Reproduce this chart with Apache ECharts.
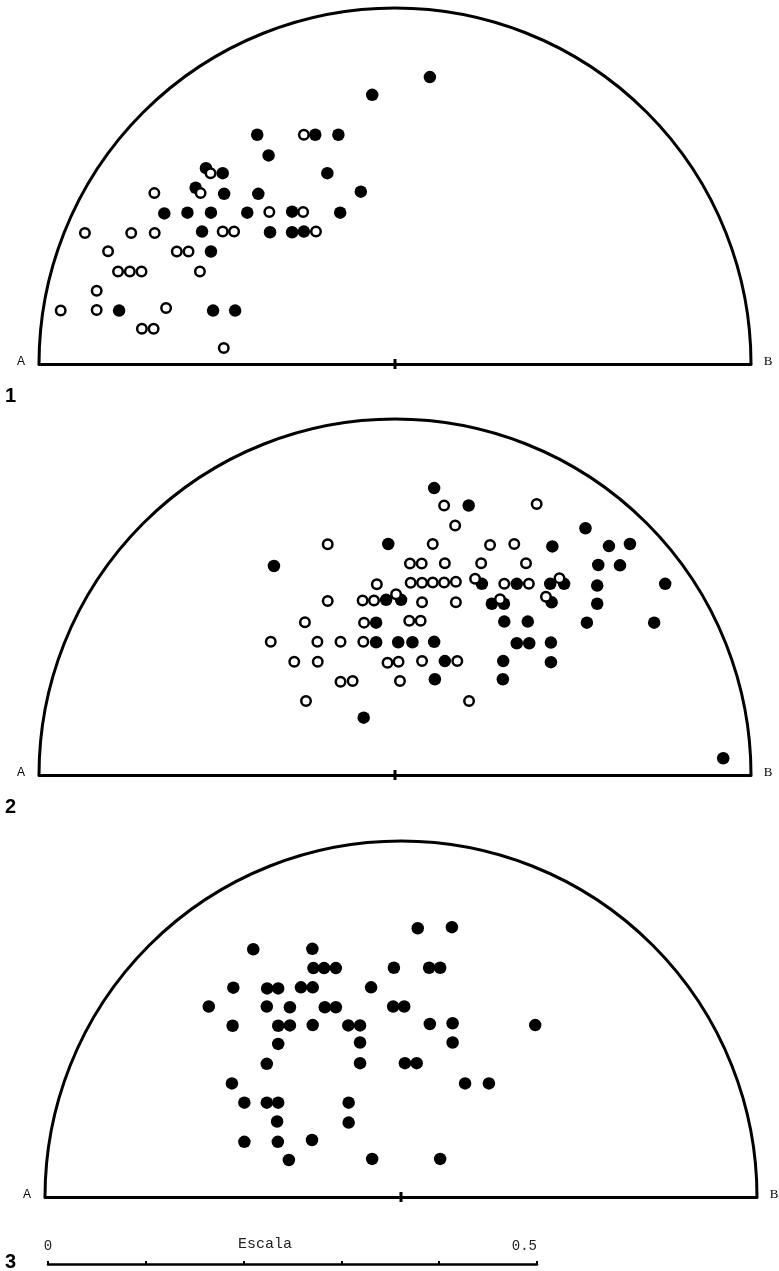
<!DOCTYPE html>
<html>
<head>
<meta charset="utf-8">
<script src="https://cdn.jsdelivr.net/npm/echarts@6/dist/echarts.min.js"></script>
<style>
html,body{margin:0;padding:0;background:#fff;}
#chart{width:779px;height:1271px;}
</style>
</head>
<body>
<div id="chart"></div>
<script>
// Coordinates: x from A (-100) to B (100), y from base (0) to top of semicircle (100); radius = 100.
const panelNames = ['1', '2', '3'];
const endLabels = ['A', 'B'];

const p1Filled = [
  [9.8,80.6],[-6.4,75.6],[-38.7,64.4],[-22.4,64.4],[-15.9,64.4],[-35.5,58.6],[-19.0,53.6],
  [-53.1,55.0],[-48.4,53.6],[-56.0,49.5],[-48.0,47.8],[-38.4,47.8],[-9.6,48.4],
  [-64.8,42.3],[-58.3,42.5],[-51.7,42.5],[-41.5,42.5],[-28.9,42.8],[-15.4,42.5],
  [-54.2,37.2],[-35.1,37.0],[-28.9,37.0],[-25.6,37.2],[-51.7,31.6],
  [-77.5,15.0],[-51.1,15.0],[-44.9,15.0]
];
const p1Open = [
  [-25.6,64.4],[-51.8,53.6],[-54.6,48.0],[-67.6,48.0],[-35.3,42.7],[-25.8,42.7],
  [-87.1,36.8],[-74.1,36.8],[-67.5,36.8],[-48.4,37.2],[-45.2,37.2],[-22.2,37.2],
  [-80.6,31.7],[-61.3,31.6],[-58.0,31.6],[-77.8,26.0],[-74.5,26.0],[-71.2,26.0],[-54.8,26.0],
  [-83.8,20.6],[-93.9,15.0],[-83.8,15.2],[-64.3,15.7],[-71.1,9.9],[-67.8,9.9],[-48.1,4.5]
];

const p2Filled = [
  [11.0,80.6],[20.7,75.7],[53.5,69.3],[-1.9,64.9],[44.2,64.2],[60.1,64.3],[66.0,64.9],
  [-34.0,58.7],[57.1,59.0],[63.2,58.9],[24.4,53.7],[34.2,53.7],[43.6,53.7],[47.5,53.7],
  [56.8,53.2],[75.9,53.7],[-2.5,49.2],[1.7,49.2],[27.2,48.1],[30.6,48.1],[44.0,48.5],
  [56.8,48.1],[-5.3,42.8],[30.7,43.1],[37.3,43.1],[53.9,42.8],[72.8,42.8],
  [-5.3,37.3],[0.9,37.3],[4.9,37.3],[11.0,37.4],[34.2,37.0],[37.7,37.0],[43.8,37.2],
  [14.0,32.0],[30.4,32.0],[43.8,31.7],[11.2,26.9],[30.3,26.9],[-8.8,16.1],[92.2,4.7]
];
const p2Open = [
  [13.8,75.7],[39.8,76.1],[16.9,70.1],[-18.9,64.8],[10.6,64.9],[26.7,64.6],[33.5,64.9],
  [4.2,59.4],[7.5,59.4],[14.0,59.5],[24.2,59.5],[36.8,59.5],
  [-5.1,53.6],[4.4,54.0],[7.6,54.0],[10.6,54.1],[13.8,54.1],[17.1,54.3],[22.5,55.1],
  [30.7,53.7],[37.6,53.7],[46.2,55.3],
  [-18.9,48.9],[-9.1,49.0],[-5.9,49.0],[0.3,50.8],[7.6,48.5],[17.1,48.5],[29.5,49.4],[42.4,50.1],
  [-25.3,42.9],[-8.7,42.8],[4.0,43.3],[7.2,43.3],
  [-34.9,37.4],[-21.8,37.4],[-15.3,37.4],[-8.9,37.4],
  [-28.3,31.8],[-21.7,31.8],[-2.1,31.5],[1.0,31.8],[7.6,32.0],[17.5,32.0],
  [-15.3,26.2],[-11.9,26.4],[1.4,26.4],[-25.0,20.8],[20.8,20.8]
];

const p3Filled = [
  [4.7,75.5],[14.3,75.8],[-41.5,69.6],[-24.9,69.7],[-24.6,64.3],[-21.6,64.3],[-18.3,64.3],
  [-2.0,64.4],[7.9,64.4],[11.0,64.4],[-47.1,58.8],[-37.6,58.6],[-34.5,58.6],[-28.1,58.9],
  [-24.8,58.9],[-8.4,58.9],[-54.0,53.5],[-37.7,53.5],[-31.2,53.3],[-21.4,53.3],[-18.3,53.3],
  [-2.2,53.5],[0.9,53.5],[-47.3,48.1],[-34.5,48.1],[-31.2,48.2],[-24.8,48.3],[-14.8,48.2],
  [-11.5,48.2],[8.1,48.6],[14.5,48.8],[37.7,48.3],[-34.5,43.0],[-11.5,43.4],[14.5,43.4],
  [-37.7,37.4],[-11.5,37.6],[1.1,37.6],[4.4,37.6],[-47.5,31.9],[18.0,31.9],[24.7,31.9],
  [-44.0,26.5],[-37.7,26.5],[-34.5,26.5],[-14.7,26.5],[-34.8,21.2],[-14.7,20.9],
  [-44.0,15.5],[-34.6,15.5],[-25.0,16.0],[-31.5,10.4],[-8.1,10.7],[11.0,10.7]
];

// Scale bar (Escala)
const scaleMin = 0, scaleMax = 0.5, scaleStep = 0.1;
const scaleLabelShown = [0, 0.5];
const scaleTitle = 'Escala';

const panels = [
  {filled: p1Filled, open: p1Open},
  {filled: p2Filled, open: p2Open},
  {filled: p3Filled, open: []}
];
const gridPos = [
  {left: 39, top: 8},
  {left: 39, top: 419},
  {left: 45, top: 841}
];

const chart = echarts.init(document.getElementById('chart'), null, {renderer: 'canvas'});

const grid = [], xAxis = [], yAxis = [], series = [];
panels.forEach((p, i) => {
  grid.push({left: gridPos[i].left, top: gridPos[i].top, width: 712, height: 356, containLabel: false});
  xAxis.push({
    type: 'value', gridIndex: i, min: -100, max: 100, interval: 100,
    axisLine: {show: true, onZero: false, lineStyle: {color: '#000', width: 3}},
    axisTick: {show: false}, axisLabel: {show: false}, splitLine: {show: false}
  });
  yAxis.push({
    type: 'value', gridIndex: i, min: 0, max: 100,
    show: false, splitLine: {show: false}
  });
  // semicircle outline, centre tick and end labels, drawn through the axes
  series.push({
    type: 'custom', xAxisIndex: i, yAxisIndex: i, clip: false, silent: true,
    data: [[0, 0]],
    renderItem: function (params, api) {
      const c = api.coord([0, 0]);
      const e = api.coord([100, 0]);
      const r = e[0] - c[0];
      return {
        type: 'group',
        children: [
          {type: 'arc', shape: {cx: c[0], cy: c[1], r: r, startAngle: Math.PI, endAngle: 2 * Math.PI, clockwise: true},
           style: {stroke: '#000', lineWidth: 3, fill: null}},
          {type: 'line', shape: {x1: c[0], y1: c[1] - 5, x2: c[0], y2: c[1] + 5},
           style: {stroke: '#000', lineWidth: 3}},
          {type: 'text', x: c[0] - r - 18, y: c[1] - 2,
           style: {text: endLabels[0], fill: '#000', font: '12px "Liberation Sans"', align: 'center', verticalAlign: 'middle'}},
          {type: 'text', x: c[0] + r + 17, y: c[1] - 2,
           style: {text: endLabels[1], fill: '#000', font: '13px "Liberation Serif"', align: 'center', verticalAlign: 'middle'}}
        ]
      };
    }
  });
  series.push({
    type: 'scatter', xAxisIndex: i, yAxisIndex: i, data: p.filled,
    symbol: 'circle', symbolSize: 12.5,
    itemStyle: {color: '#000', opacity: 1}, silent: true
  });
  if (p.open.length) {
    series.push({
      type: 'scatter', xAxisIndex: i, yAxisIndex: i, data: p.open,
      symbol: 'circle', symbolSize: 9.5,
      itemStyle: {color: '#fff', borderColor: '#000', borderWidth: 2.5, opacity: 1}, silent: true
    });
  }
});

// scale bar grid
grid.push({left: 48, top: 1264, width: 489, height: 4});
xAxis.push({
  type: 'value', gridIndex: 3, position: 'top', min: scaleMin, max: scaleMax, interval: scaleStep,
  axisLine: {show: true, onZero: false, lineStyle: {color: '#000', width: 2.5}},
  axisTick: {show: true, length: 3, inside: false, lineStyle: {color: '#000', width: 2}},
  axisLabel: {
    show: true, margin: 11, color: '#222', fontFamily: 'Liberation Mono', fontSize: 14,
    alignMaxLabel: 'right',
    formatter: v => scaleLabelShown.some(s => Math.abs(s - v) < 1e-9) ? String(v) : ''
  },
  splitLine: {show: false}
});
yAxis.push({type: 'value', gridIndex: 3, show: false, min: 0, max: 1});

chart.setOption({
  animation: false,
  backgroundColor: '#fff',
  grid: grid, xAxis: xAxis, yAxis: yAxis, series: series,
  graphic: [
    {type: 'text', left: 5, top: 386, style: {text: panelNames[0], font: 'bold 20px "Liberation Sans"', fill: '#000'}},
    {type: 'text', left: 5, top: 797, style: {text: panelNames[1], font: 'bold 20px "Liberation Sans"', fill: '#000'}},
    {type: 'text', left: 5, top: 1252, style: {text: panelNames[2], font: 'bold 20px "Liberation Sans"', fill: '#000'}},
    {type: 'text', left: 238, top: 1237, style: {text: scaleTitle, font: '15px "Liberation Mono"', fill: '#222'}}
  ]
});
</script>
</body>
</html>
